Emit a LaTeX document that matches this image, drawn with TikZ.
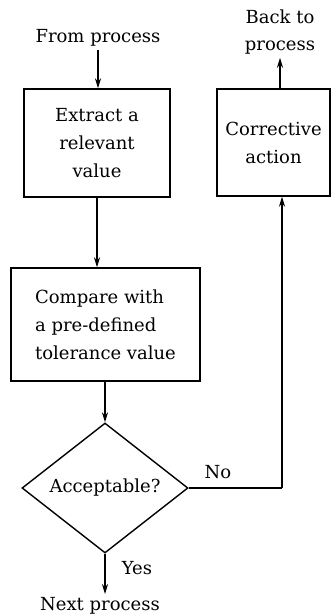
\documentclass[tikz,border=0pt]{standalone}
\usepackage{fontspec}
\setmainfont{DejaVu Serif}
\usetikzlibrary{shapes.geometric,arrows.meta,calc}
\begin{document}
\begin{tikzpicture}[x=1pt,y=-1pt,
  every node/.style={font=\fontsize{18}{28}\selectfont},
  box/.style={draw,line width=1.4pt,inner sep=0pt,align=center},
  conn/.style={line width=2.2pt,-{Stealth[length=10pt,width=6pt]}},
  plain/.style={line width=2.2pt}]
\useasboundingbox (0,0) rectangle (333,616);
\node (from) at (98,38) {From process};
\node[box,minimum width=146pt,minimum height=108pt] (extract) at (97,143) {Extract a\\relevant\\value};
\node[box,minimum width=113pt,minimum height=107pt] (corr) at (273.5,142.5) {Corrective\\action};
\node[align=center,font=\fontsize{18}{27}\selectfont] (back) at (280,32) {Back to\\process};
\node[box,align=left,minimum width=189pt,minimum height=113pt] (cmp) at (105.5,324.5) {Compare with\\a pre-defined\\tolerance value};
\node[draw,diamond,line width=1.4pt,inner sep=0pt,minimum width=166pt,minimum height=130pt,shape aspect=1.28] (dia) at (105,488) {Acceptable?};
\node (next) at (100,606) {Next process};
\node (yes) at (137,568) {Yes};
\coordinate (turn) at (282,488);
\node (no) at (218,472) {No};
\draw[conn] (from.south) -- (from.south |- extract.north);
\draw[conn] (extract.south) -- (extract.south |- cmp.north);
\draw[conn] (cmp.south -| dia.north) -- (dia.north);
\draw[conn] (dia.south) -- (dia.south |- next.north);
\draw[plain] (dia.east) -- (turn);
\draw[conn] (turn) -- (turn |- corr.south);
\draw[conn] (back.south |- corr.north) -- (back.south);
\end{tikzpicture}
\end{document}
